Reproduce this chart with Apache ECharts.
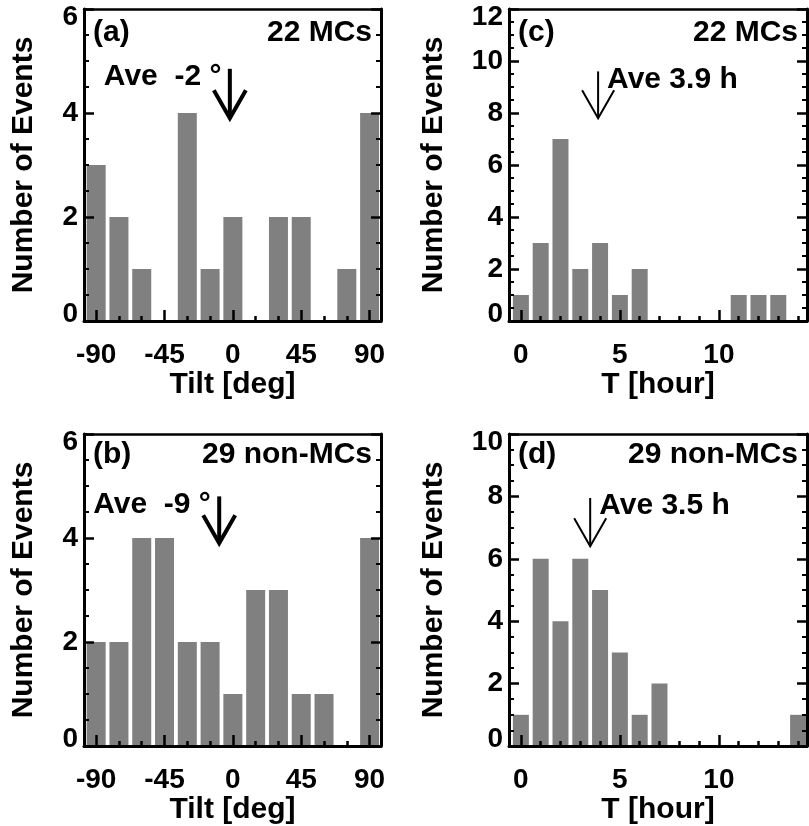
<!DOCTYPE html>
<html>
<head>
<meta charset="utf-8">
<script src="https://cdn.jsdelivr.net/npm/echarts@6/dist/echarts.min.js"></script>
<style>
  html, body { margin: 0; padding: 0; background: #fff; }
  #chart { width: 809px; height: 826px; }
</style>
</head>
<body>
<div id="chart"></div>
<script>
// histogram bins and counts
const tiltBins = [-90, -75, -60, -45, -30, -15, 0, 15, 30, 45, 60, 75, 90]
const tiltMC = [3, 2, 1, 0, 4, 1, 2, 0, 2, 2, 0, 1, 4]
const tiltNonMC = [2, 2, 4, 4, 2, 2, 1, 3, 3, 1, 1, 0, 4]
const tiltLabels = [-90, -45, 0, 45, 90]

const hourBins = [0, 1, 2, 3, 4, 5, 6, 7, 8, 9, 10, 11, 12, 13, 14]
const hourMC = [1, 3, 7, 2, 3, 1, 2, 0, 0, 0, 0, 1, 1, 1, 0]
const hourNonMC = [1, 6, 4, 6, 5, 3, 1, 2, 0, 0, 0, 0, 0, 0, 1]
const hourLabels = [0, 5, 10]

// averages and arrow extent [top, tip] in data units
const aveValues = [-2, 3.9, -9, 3.5]
const arrowY = [[4.85, 3.9], [9.6, 7.8], [4.8, 3.9], [7.95, 6.4]]

const tags = ['(a)', '(c)', '(b)', '(d)']
const counts = ['22 MCs', '22 MCs', '29 non-MCs', '29 non-MCs']
const yMaxes = [6, 12, 6, 10]

const FONT = 'Liberation Sans'
const GRAY = '#808080'

const panels = [
  { bins: tiltBins, vals: tiltMC, labels: tiltLabels, xMin: -98, xMax: 97.5, xName: 'Tilt [deg]',
    grid: { left: 84, top: 9, width: 297, height: 312 }, barWidth: 19, yNameGap: 45, lw: 4, tilt: true },
  { bins: hourBins, vals: hourMC, labels: hourLabels, xMin: -0.6, xMax: 14.45, xName: 'T [hour]',
    grid: { left: 509, top: 9, width: 298, height: 312 }, barWidth: 16, yNameGap: 60, lw: 2, tilt: false },
  { bins: tiltBins, vals: tiltNonMC, labels: tiltLabels, xMin: -98, xMax: 97.5, xName: 'Tilt [deg]',
    grid: { left: 84, top: 434, width: 297, height: 312 }, barWidth: 19, yNameGap: 45, lw: 4, tilt: true },
  { bins: hourBins, vals: hourNonMC, labels: hourLabels, xMin: -0.6, xMax: 14.45, xName: 'T [hour]',
    grid: { left: 509, top: 434, width: 298, height: 312 }, barWidth: 16, yNameGap: 60, lw: 2, tilt: false },
]

const labelFont = { fontFamily: FONT, fontWeight: 'bold', fontSize: 28, color: '#000' }
const black = (w) => ({ color: '#000', width: w })
const textFont = 'bold 30px "' + FONT + '"'

const grids = [], xAxes = [], yAxes = [], series = [], graphics = []

panels.forEach((p, i) => {
  const yMax = yMaxes[i]
  grids.push(Object.assign({ show: false }, p.grid))
  // bottom: line + minor ticks
  xAxes.push({
    gridIndex: i, type: 'value', position: 'bottom', min: p.xMin, max: p.xMax, z: 5,
    axisLine: { show: true, onZero: false, lineStyle: black(3) },
    axisTick: { show: true, inside: true, length: 5, lineStyle: black(2.5), customValues: p.bins },
    axisLabel: { show: false },
    splitLine: { show: false },
  })
  // bottom: major ticks, labels, name
  xAxes.push({
    gridIndex: i, type: 'value', position: 'bottom', min: p.xMin, max: p.xMax, z: 5,
    axisLine: { show: false, onZero: false },
    axisTick: { show: true, inside: true, length: 11, lineStyle: black(2.5), customValues: p.labels },
    axisLabel: Object.assign({ margin: 20, customValues: p.labels }, labelFont),
    splitLine: { show: false },
    name: p.xName, nameLocation: 'middle', nameGap: 41,
    nameTextStyle: Object.assign({}, labelFont, { fontSize: 30 }),
  })
  // top border
  xAxes.push({
    gridIndex: i, type: 'value', position: 'top', min: p.xMin, max: p.xMax, z: 5,
    axisLine: { show: true, onZero: false, lineStyle: black(2.5) },
    axisTick: { show: false }, axisLabel: { show: false }, splitLine: { show: false },
  })
  const yBase = {
    gridIndex: i, type: 'value', min: 0, max: yMax, interval: 2, z: 5,
    axisLine: { show: true, onZero: false, lineStyle: black(3) },
    axisTick: { show: true, inside: true, length: 10, lineStyle: black(2.5) },
    minorTick: { show: true, splitNumber: 4, length: 5, lineStyle: black(2) },
    splitLine: { show: false }, minorSplitLine: { show: false },
  }
  yAxes.push(Object.assign({}, yBase, {
    position: 'left',
    axisLabel: Object.assign({
      margin: 6,
      formatter: (v) => (v === yMax ? '{hi|' + v + '}' : v === 0 ? '{lo|0}' : String(v)),
      rich: {
        hi: Object.assign({ padding: [16, 0, 0, 0] }, labelFont),
        lo: Object.assign({ padding: [0, 0, 14, 0] }, labelFont),
      },
    }, labelFont),
    name: 'Number of Events', nameLocation: 'middle', nameGap: p.yNameGap,
    nameTextStyle: Object.assign({}, labelFont, { fontSize: 30 }),
  }))
  yAxes.push(Object.assign({}, yBase, { position: 'right', axisLabel: { show: false } }))

  series.push({
    type: 'bar', xAxisIndex: i * 3, yAxisIndex: i * 2,
    barWidth: p.barWidth, itemStyle: { color: GRAY }, silent: true,
    data: p.bins.map((b, k) => [b, p.vals[k]]),
  })

  const ave = aveValues[i]
  const aveText = p.tilt ? 'Ave  ' + ave + ' °' : 'Ave ' + ave.toFixed(1) + ' h'
  const lw = p.lw
  const tilt = p.tilt
  series.push({
    type: 'custom', xAxisIndex: i * 3, yAxisIndex: i * 2, silent: true, z: 6,
    data: [[ave, arrowY[i][0], arrowY[i][1]]],
    renderItem: (params, api) => {
      const top = api.coord([api.value(0), api.value(1)])
      const tip = api.coord([api.value(0), api.value(2)])
      return {
        type: 'group',
        children: [
          { type: 'line', shape: { x1: top[0], y1: top[1], x2: tip[0], y2: tip[1] },
            style: { stroke: '#000', lineWidth: lw } },
          { type: 'polyline',
            shape: { points: [[tip[0] - 16, tip[1] - 28], [tip[0], tip[1]], [tip[0] + 16, tip[1] - 28]] },
            style: { stroke: '#000', fill: null, lineWidth: lw } },
          { type: 'text', x: tilt ? top[0] - 126 : top[0] + 9, y: top[1] + 8,
            style: { text: aveText, fill: '#000', align: 'left', verticalAlign: 'middle', font: textFont } },
        ],
      }
    },
  })

  const g = p.grid
  const ty = g.top + (i < 2 ? 24 : 21)
  graphics.push({ type: 'text', x: g.left + 9, y: ty, z: 10,
    style: { text: tags[i], fill: '#000', align: 'left', verticalAlign: 'middle', font: textFont } })
  graphics.push({ type: 'text', x: g.left + g.width - 9, y: ty, z: 10,
    style: { text: counts[i], fill: '#000', align: 'right', verticalAlign: 'middle', font: textFont } })
})

const chart = echarts.init(document.getElementById('chart'))
chart.setOption({
  backgroundColor: '#fff',
  animation: false,
  grid: grids,
  xAxis: xAxes,
  yAxis: yAxes,
  series: series,
  graphic: graphics,
})
</script>
</body>
</html>
